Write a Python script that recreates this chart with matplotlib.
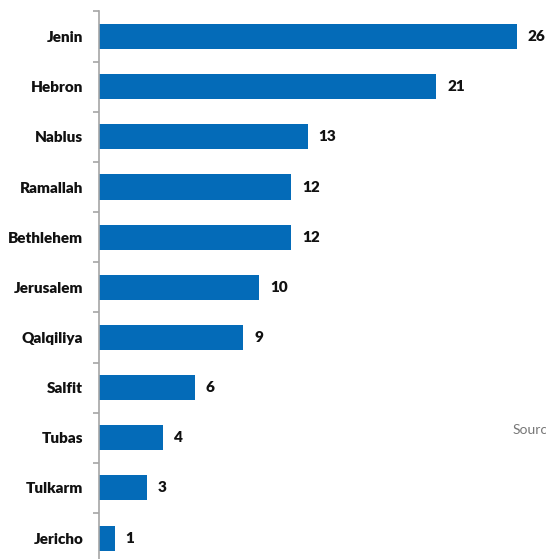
import matplotlib
matplotlib.use("Agg")
import matplotlib.pyplot as plt
import numpy as np

categories = ["Jenin", "Hebron", "Nablus", "Ramallah", "Bethlehem", "Jerusalem",
              "Qalqiliya", "Salfit", "Tubas", "Tulkarm", "Jericho"]
values = [26, 21, 13, 12, 12, 10, 9, 6, 4, 3, 1]

W, H = 546, 559
fig = plt.figure(figsize=(W / 100, H / 100), dpi=100)
bar_color = "#046bb8"
axis_color = "#a6a6a6"

left_px = 98.5
top_px = 11.5
step = 50.15
n = len(categories)
bottom_px = top_px + n * step
xmax = 28
px_per_unit = 16.08
ax = fig.add_axes([left_px / W, (H - bottom_px) / H,
                   xmax * px_per_unit / W, (bottom_px - top_px) / H])

y = np.arange(n)
ax.barh(y, values, height=0.5, color=bar_color)
ax.set_ylim(n - 0.5, -0.5)
ax.set_xlim(0, xmax)

for yi, v in zip(y, values):
    ax.text(v + 0.68, yi, str(v), va="center", ha="left",
            fontsize=11, fontweight="heavy", family="Lato", color="#111111")

for s in ["top", "right", "bottom"]:
    ax.spines[s].set_visible(False)
ax.spines["left"].set_color(axis_color)
ax.spines["left"].set_linewidth(1.2)
ax.set_xticks([])
ax.set_yticks(y)
ax.set_yticklabels(categories, fontsize=11, fontweight="heavy", family="Lato",
                   color="#111111")
ax.tick_params(axis="y", which="major", length=0, pad=11)
ax.set_yticks(np.arange(-0.5, n, 1), minor=True)
ax.tick_params(axis="y", which="minor", length=4, width=1.2, color=axis_color,
               direction="out")

fig.text(513 / W, 1 - 430 / H, "Source", fontsize=10, color="#777777",
         family="Lato", va="center", ha="left")

fig.savefig("out.png", dpi=100)
